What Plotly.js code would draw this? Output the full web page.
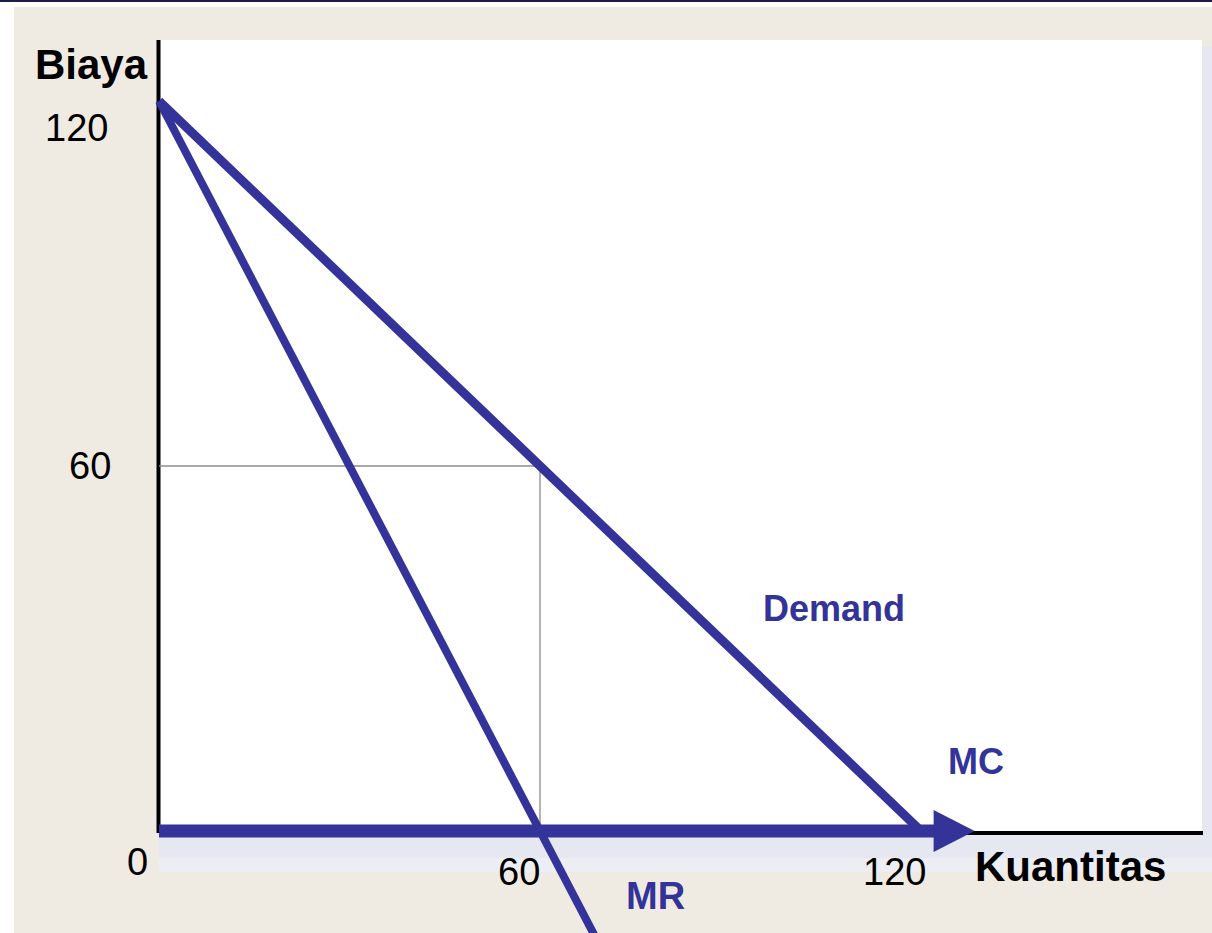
<!DOCTYPE html>
<html>
<head>
<meta charset="utf-8">
<script src="https://cdn.plot.ly/plotly-3.0.1.min.js"></script>
<style>
  html, body { margin: 0; padding: 0; background: #ffffff; }
  #chart { width: 1212px; height: 933px; }
</style>
</head>
<body>
<div id="chart"></div>
<script>
// ---- data ----
var demandQ = [0, 120];
var demandP = [120, 0];
var mrQ = [0, 70];
var mrP = [120, -20];
var mcQ = [0, 122.3];
var mcP = [0, 0];
var guideQ = [0, 60, 60];
var guideP = [60, 60, 0];
var yTickVals = [120, 60];
var yTickText = ['120', '60'];
var xTickVals = [0, 60, 120];
var xTickText = ['0', '60', '120'];

// ---- layout helpers (pixel -> paper) ----
var W = 1212, H = 933;
function px(x) { return x / W; }
function py(y) { return 1 - y / H; }
var BLUE = '#333399';
var FONT = 'Liberation Sans, Arial, sans-serif';

function rect(x0, y0, x1, y1, color) {
  return {type: 'rect', xref: 'paper', yref: 'paper', x0: px(x0), x1: px(x1), y0: py(y1), y1: py(y0),
          fillcolor: color, line: {width: 0}, layer: 'below'};
}
function pline(x0, y0, x1, y1, color, w) {
  return {type: 'line', xref: 'paper', yref: 'paper', x0: px(x0), x1: px(x1), y0: py(y0), y1: py(y1),
          line: {color: color, width: w}, layer: 'below'};
}

var shapes = [
  rect(0, 0, 1212, 2, '#1c1c48'),
  rect(14, 7, 1212, 933, '#f0ebe2'),
  rect(159, 47, 1212, 872, '#e5e8f0'),
  rect(159, 858, 1212, 872, '#eceef3'),
  rect(159, 40, 1202, 831, '#ffffff'),
  pline(158.5, 40, 158.5, 833, '#000000', 4),
  pline(159, 833, 1203, 833, '#000000', 4),
  // arrow head at the end of MC
  {type: 'path', xref: 'x', yref: 'y', xsizemode: 'pixel', ysizemode: 'pixel',
   xanchor: mcQ[mcQ.length - 1], yanchor: mcP[mcP.length - 1],
   path: 'M-2,21 L39,0 L-2,-21 Z', fillcolor: BLUE, line: {width: 0}, layer: 'above'}
];

var traces = [
  {x: guideQ, y: guideP, mode: 'lines', line: {color: '#8c8c8c', width: 1.3}, hoverinfo: 'skip'},
  {x: mrQ, y: mrP, mode: 'lines', line: {color: BLUE, width: 8}, hoverinfo: 'skip'},
  {x: demandQ, y: demandP, mode: 'lines', line: {color: BLUE, width: 9}, hoverinfo: 'skip'},
  {x: mcQ, y: mcP, mode: 'lines', line: {color: BLUE, width: 13}, hoverinfo: 'skip'}
];

var annotations = [];
var yShifts = [[-49, -27], [-46, 0]];
yTickVals.forEach(function (v, i) {
  annotations.push({x: 0, y: v, xref: 'x', yref: 'y', text: yTickText[i], showarrow: false,
    xanchor: 'right', yanchor: 'middle', xshift: yShifts[i][0], yshift: yShifts[i][1],
    font: {family: FONT, size: 38, color: '#000000'}});
});
var xShifts = [[-22, -31], [-21, -41], [-27, -41]];
xTickVals.forEach(function (v, i) {
  annotations.push({x: v, y: 0, xref: 'x', yref: 'y', text: xTickText[i], showarrow: false,
    xanchor: 'center', yanchor: 'middle', xshift: xShifts[i][0], yshift: xShifts[i][1],
    font: {family: FONT, size: 38, color: '#000000'}});
});
function label(text, cx, cy, size, color) {
  annotations.push({x: px(cx), y: py(cy), xref: 'paper', yref: 'paper', text: '<b>' + text + '</b>',
    showarrow: false, xanchor: 'center', yanchor: 'middle',
    font: {family: FONT, size: size, color: color}});
}
label('Biaya', 91, 64, 42, '#000000');
label('Kuantitas', 1070, 866, 42, '#000000');
label('Demand', 834, 608, 36, BLUE);
label('MC', 976, 761, 36, BLUE);
label('MR', 655, 896, 38, BLUE);

// axis ranges so that Q=0 -> x=159px, Q=60 -> 540px; P=0 -> y=831px, P=60 -> 466px
var sx = (540 - 159) / 60, sy = (831 - 466) / 60;
var xr0 = -159 / sx, yr0 = -(H - 831) / sy;

var layout = {
  width: W, height: H, autosize: false,
  margin: {l: 0, r: 0, t: 0, b: 0, pad: 0},
  paper_bgcolor: '#ffffff', plot_bgcolor: '#ffffff',
  showlegend: false,
  xaxis: {range: [xr0, xr0 + W / sx], visible: false, fixedrange: true},
  yaxis: {range: [yr0, yr0 + H / sy], visible: false, fixedrange: true},
  shapes: shapes,
  annotations: annotations
};

Plotly.newPlot('chart', traces, layout, {displayModeBar: false, staticPlot: true});
</script>
</body>
</html>
